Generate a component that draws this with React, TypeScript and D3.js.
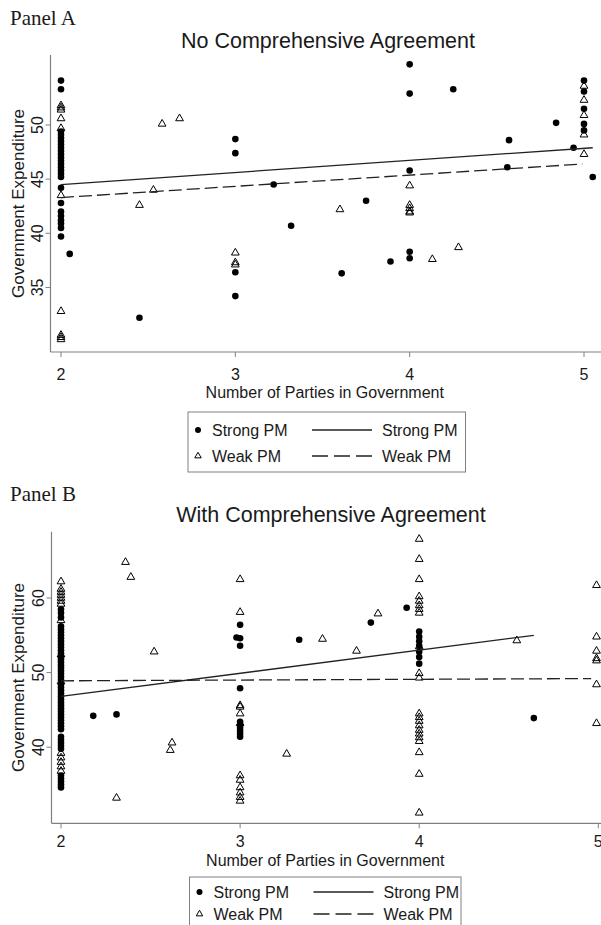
import React from "react";
import * as d3 from "d3";

// ---- data ----
// Panel A: no comprehensive agreement
const aStrongAt2 = [54.1, 53.3, 49.4, 49.1, 48.8, 48.5, 48.2, 47.9, 47.6, 47.3, 47.0, 46.7, 46.4, 46.1, 45.8, 45.5, 45.2, 44.2, 42.8, 42.0, 41.6, 41.2, 40.9, 40.5, 39.7];
const aStrongAt3 = [48.7, 47.4, 36.4, 34.2];
const aStrongAt4 = [55.6, 52.9, 45.8, 38.3, 37.7];
const aStrongAt5 = [54.1, 53.1, 51.5, 50.1, 49.5];
const aStrongOther: [number, number][] = [
  [2.05, 38.1], [2.45, 32.2], [3.22, 44.5], [3.32, 40.7], [3.61, 36.3], [3.75, 43.0],
  [3.89, 37.4], [4.25, 53.3], [4.56, 46.1], [4.57, 48.6], [4.84, 50.2], [4.94, 47.9], [5.05, 45.2],
];
const aWeakAt2 = [51.8, 51.6, 51.4, 50.6, 49.7, 43.5, 32.8, 30.6, 30.4, 30.2];
const aWeakAt3 = [38.2, 37.3, 37.1];
const aWeakAt4 = [44.4, 42.6, 42.3, 42.0, 41.9];
const aWeakAt5 = [53.6, 52.3, 50.9, 49.1, 47.3];
const aWeakOther: [number, number][] = [
  [2.45, 42.6], [2.53, 44.0], [2.58, 50.1], [2.68, 50.6], [3.6, 42.2], [4.13, 37.6], [4.28, 38.7],
];
const aStrongFit: [number, number][] = [[2, 44.5], [5.05, 47.9]];
const aWeakFit: [number, number][] = [[2, 43.3], [4.99, 46.4]];

// Panel B: with comprehensive agreement
const bStrongAt2 = [58.5, 58.0, 57.4, 56.2, 55.8, 55.4, 55.0, 54.6, 54.2, 53.8, 53.4, 53.0, 52.6, 52.2, 51.8, 51.4, 51.0, 50.6, 50.2, 49.8, 49.4, 49.0, 48.4, 48.0, 47.6, 47.2, 46.8, 46.4, 46.0, 45.6, 45.2, 44.8, 44.4, 44.0, 43.6, 43.2, 42.8, 42.4, 41.4, 41.0, 40.6, 40.2, 39.8, 36.2, 35.8, 35.4, 35.0, 34.6];
const bStrongAt3 = [56.4, 54.6, 53.6, 47.9, 43.4, 43.0, 42.6, 42.2, 41.8, 41.4];
const bStrongAt4 = [55.5, 54.8, 54.2, 53.6, 52.8, 52.1, 51.2];
const bStrongOther: [number, number][] = [
  [2.18, 44.2], [2.31, 44.4], [2.98, 54.7], [3.33, 54.4], [3.73, 56.7], [3.93, 58.7], [4.64, 43.9],
];
const bWeakAt2 = [62.2, 61.2, 60.8, 60.4, 60.0, 59.6, 59.2, 57.0, 52.4, 48.8, 39.2, 38.6, 38.0, 37.4, 36.8];
const bWeakAt3 = [62.5, 58.1, 45.6, 45.4, 44.5, 43.2, 36.2, 35.6, 34.6, 33.9, 33.3, 32.8];
const bWeakAt4 = [67.9, 65.2, 62.5, 60.2, 59.6, 59.0, 58.5, 58.0, 53.5, 49.9, 49.3, 44.5, 44.0, 43.5, 42.9, 42.3, 41.8, 41.3, 40.8, 39.3, 36.4, 31.2];
const bWeakAt5 = [61.7, 54.8, 52.9, 51.9, 51.6, 48.4, 43.2];
const bWeakOther: [number, number][] = [
  [2.31, 33.2], [2.36, 64.8], [2.39, 62.8], [2.52, 52.8], [2.61, 39.6], [2.62, 40.6],
  [3.26, 39.1], [3.46, 54.5], [3.65, 52.9], [3.77, 57.9], [4.545, 54.3],
];
const bStrongFit: [number, number][] = [[2, 46.8], [4.64, 55.0]];
const bWeakFit: [number, number][] = [[2, 48.9], [4.96, 49.2]];

const xTicks = [2, 3, 4, 5];
const aYTicks = [35, 40, 45, 50];
const bYTicks = [40, 50, 60];
const seriesNames = ["Strong PM", "Weak PM"];

const col = (xv: number, ys: number[]) => ys.map((v) => [xv, v] as [number, number]);

const sans = "'Liberation Sans', Arial, sans-serif";
const serif = "'Liberation Serif', 'Times New Roman', serif";
const axisGray = "#808080";
const ink = "#1a1a1a";
const dash = "13 5";
const triangle = d3.symbol(d3.symbolTriangle, 26)() as string;
const triSmall = d3.symbol(d3.symbolTriangle, 18)() as string;

type PanelProps = {
  name: string; nameY: number; title: string; titleX: number; titleY: number;
  top: number; bottom: number; left: number;
  x: d3.ScaleLinear<number, number>; y: d3.ScaleLinear<number, number>;
  yTicks: number[];
  strong: [number, number][]; weak: [number, number][];
  strongFit: [number, number][]; weakFit: [number, number][];
  tickLabelY: number; xTitleY: number;
  legend: { x0: number; x1: number; y0: number; y1: number; r1: number; r2: number };
};

function Panel(p: PanelProps) {
  const line = d3.line<[number, number]>().x((d) => p.x(d[0])).y((d) => p.y(d[1]));
  const plotMid = (p.top + p.bottom) / 2;
  const lg = p.legend;
  return (
    <g>
      <text x={10} y={p.nameY} fontFamily={serif} fontSize={21} fill={ink}>{p.name}</text>
      <text x={p.titleX} y={p.titleY} textAnchor="middle" fontFamily={sans} fontSize={21.5} fill={ink}>{p.title}</text>

      {/* axes */}
      <line x1={p.left} x2={p.left} y1={p.top} y2={p.bottom} stroke={axisGray} strokeWidth={1.2} />
      <line x1={p.left} x2={601} y1={p.bottom} y2={p.bottom} stroke={axisGray} strokeWidth={1.2} />
      {p.yTicks.map((t) => (
        <g key={t}>
          <line x1={p.left - 5} x2={p.left} y1={p.y(t)} y2={p.y(t)} stroke={axisGray} />
          <text transform={`translate(${p.left - 8},${p.y(t)}) rotate(-90)`} textAnchor="middle"
            fontFamily={sans} fontSize={16} fill={ink}>{t}</text>
        </g>
      ))}
      {xTicks.map((t) => (
        <g key={t}>
          <line x1={p.x(t)} x2={p.x(t)} y1={p.bottom} y2={p.bottom + 5} stroke={axisGray} />
          <text x={p.x(t)} y={p.tickLabelY} textAnchor="middle" fontFamily={sans} fontSize={16} fill={ink}>{t}</text>
        </g>
      ))}
      <text transform={`translate(24,${plotMid}) rotate(-90)`} textAnchor="middle"
        fontFamily={sans} fontSize={17} fill={ink}>Government Expenditure</text>
      <text x={(p.left + 601) / 2 - 1} y={p.xTitleY} textAnchor="middle" fontFamily={sans} fontSize={16} fill={ink}>
        Number of Parties in Government
      </text>

      {/* points */}
      {p.strong.map((d, i) => (
        <circle key={"s" + i} cx={p.x(d[0])} cy={p.y(d[1])} r={3.3} fill="#000" />
      ))}
      {p.weak.map((d, i) => (
        <path key={"w" + i} d={triangle} transform={`translate(${p.x(d[0])},${p.y(d[1])})`}
          fill="none" stroke="#000" strokeWidth={1} />
      ))}

      {/* fitted lines */}
      <path d={line(p.strongFit) as string} fill="none" stroke="#222" strokeWidth={1.3} />
      <path d={line(p.weakFit) as string} fill="none" stroke="#222" strokeWidth={1.3} strokeDasharray={dash} />

      {/* legend */}
      <rect x={lg.x0} y={lg.y0} width={lg.x1 - lg.x0} height={lg.y1 - lg.y0} fill="#fff" stroke={axisGray} />
      <circle cx={lg.x0 + 10} cy={lg.r1} r={3} fill="#000" />
      <path d={triSmall} transform={`translate(${lg.x0 + 10},${lg.r2})`} fill="none" stroke="#000" />
      <text x={lg.x0 + 24} y={lg.r1 + 6} fontFamily={sans} fontSize={16} fill={ink}>{seriesNames[0]}</text>
      <text x={lg.x0 + 24} y={lg.r2 + 6} fontFamily={sans} fontSize={16} fill={ink}>{seriesNames[1]}</text>
      <line x1={lg.x0 + 124} x2={lg.x0 + 184} y1={lg.r1} y2={lg.r1} stroke="#222" strokeWidth={1.3} />
      <line x1={lg.x0 + 124} x2={lg.x0 + 184} y1={lg.r2} y2={lg.r2} stroke="#222" strokeWidth={1.3} strokeDasharray="16 6" />
      <text x={lg.x0 + 194} y={lg.r1 + 6} fontFamily={sans} fontSize={16} fill={ink}>{seriesNames[0]}</text>
      <text x={lg.x0 + 194} y={lg.r2 + 6} fontFamily={sans} fontSize={16} fill={ink}>{seriesNames[1]}</text>
    </g>
  );
}

export default function App() {
  const xA = d3.scaleLinear().domain([2, 5]).range([61, 584]);
  const yA = d3.scaleLinear().domain([40, 50]).range([233.3, 125]);
  const xB = d3.scaleLinear().domain([2, 5]).range([61, 598.3]);
  const yB = d3.scaleLinear().domain([40, 60]).range([747.2, 598]);

  const aStrong = [...col(2, aStrongAt2), ...col(3, aStrongAt3), ...col(4, aStrongAt4), ...col(5, aStrongAt5), ...aStrongOther];
  const aWeak = [...col(2, aWeakAt2), ...col(3, aWeakAt3), ...col(4, aWeakAt4), ...col(5, aWeakAt5), ...aWeakOther];
  const bStrong = [...col(2, bStrongAt2), ...col(3, bStrongAt3), ...col(4, bStrongAt4), ...bStrongOther];
  const bWeak = [...col(2, bWeakAt2), ...col(3, bWeakAt3), ...col(4, bWeakAt4), ...col(4.99, bWeakAt5), ...bWeakOther];

  return (
    <div style={{ position: "absolute", left: 0, top: 0 }}>
      <svg width={601} height={925} style={{ display: "block", background: "#fff" }}>
        <Panel name="Panel A" nameY={25} title="No Comprehensive Agreement" titleX={328} titleY={48}
          top={55} bottom={352} left={50.5} x={xA} y={yA} yTicks={aYTicks}
          strong={aStrong} weak={aWeak} strongFit={aStrongFit} weakFit={aWeakFit}
          tickLabelY={380} xTitleY={398}
          legend={{ x0: 188, x1: 465.5, y0: 412, y1: 472, r1: 430, r2: 456 }} />
        <Panel name="Panel B" nameY={501} title="With Comprehensive Agreement" titleX={331} titleY={522}
          top={531.7} bottom={823.3} left={51.5} x={xB} y={yB} yTicks={bYTicks}
          strong={bStrong} weak={bWeak} strongFit={bStrongFit} weakFit={bWeakFit}
          tickLabelY={847} xTitleY={866}
          legend={{ x0: 189.5, x1: 461, y0: 877, y1: 940, r1: 892, r2: 914 }} />
      </svg>
    </div>
  );
}
